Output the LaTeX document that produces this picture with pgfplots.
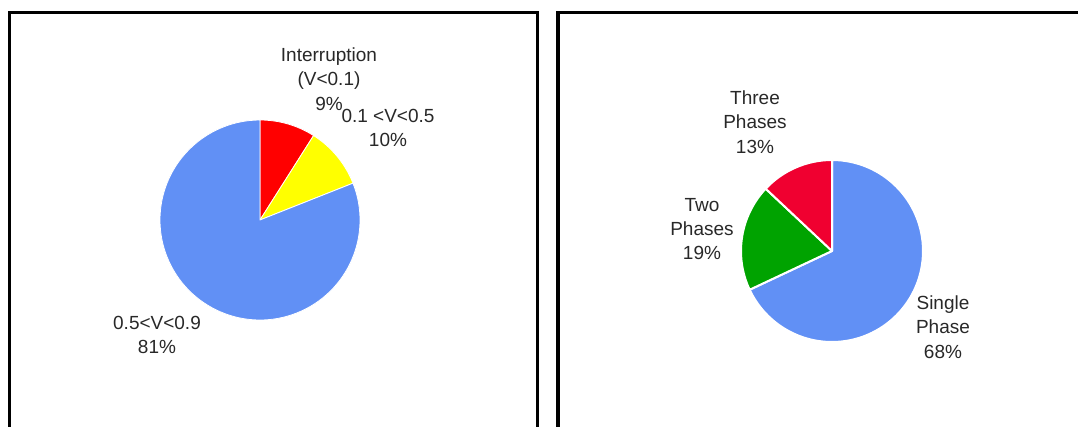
\documentclass[border=0pt]{standalone}
\usepackage{fontspec}
\setmainfont{Liberation Sans}
\usepackage{pgfplots}
\usepackage{pgfplotstable}
\pgfplotsset{compat=1.18}

\definecolor{pieBlue}{RGB}{97,144,245}
\definecolor{pieRed}{RGB}{255,0,0}
\definecolor{pieYellow}{RGB}{255,255,0}
\definecolor{phaseRed}{RGB}{240,0,48}
\definecolor{phaseGreen}{RGB}{0,163,0}
\definecolor{labelGray}{RGB}{40,40,40}

% Voltage sag depth (share of events, percent), clockwise from 12 o'clock
\pgfplotstableread{
share colour
9  pieRed
10 pieYellow
81 pieBlue
}\depthdata

% Number of phases affected (share of events, percent), clockwise from 12 o'clock
\pgfplotstableread{
share colour
68 pieBlue
19 phaseGreen
13 phaseRed
}\phasedata

% \drawpie{table}{centre x}{centre y}{radius}{separator width}
\newcommand\drawpie[5]{%
  \pgfplotstablegetrowsof{#1}%
  \pgfmathtruncatemacro\lastrow{\pgfplotsretval-1}%
  \def\startang{90}%
  \pgfplotsforeachungrouped \i in {0,...,\lastrow}{%
    \pgfplotstablegetelem{\i}{share}\of{#1}\let\val\pgfplotsretval
    \pgfplotstablegetelem{\i}{colour}\of{#1}\let\col\pgfplotsretval
    \pgfmathsetmacro\endang{\startang-3.6*\val}%
    \edef\wedge{\noexpand\filldraw[fill=\col, draw=white, line width=#5, line join=round]
      (axis cs:#2,#3) -- ++(\startang:#4)
      arc[start angle=\startang, end angle=\endang, radius=#4] -- cycle;}%
    \wedge
    \let\startang\endang
  }%
}

\tikzset{lbl/.style={font=\fontsize{9.5}{12.2}\selectfont, align=center,
  text=labelGray, inner sep=0pt, anchor=center}}

\begin{document}
\begin{tikzpicture}
\begin{axis}[
  x=0.5pt, y=0.5pt,
  xmin=0, xmax=1078, ymin=0, ymax=427,
  y dir=reverse,
  hide axis,
  clip=false,
]
  % panel frames
  \draw[black, line width=1.7pt, line join=miter]
    (axis cs:9.5,427) -- (axis cs:9.5,12.5) -- (axis cs:537.5,12.5) -- (axis cs:537.5,427);
  \draw[black, line width=1.7pt, line join=miter]
    (axis cs:558,427) -- (axis cs:558,12.5) -- (axis cs:1078,12.5);

  % left: sag depth
  \drawpie{\depthdata}{260}{220}{50pt}{0.4pt}
  \node[lbl] at (axis cs:329,79) {Interruption\\(V<0.1)\\9\%};
  \node[lbl] at (axis cs:388,128) {0.1 <V<0.5\\10\%};
  \node[lbl] at (axis cs:157,335) {0.5<V<0.9\\81\%};

  % right: phases affected
  \drawpie{\phasedata}{832}{251}{45.5pt}{1pt}
  \node[lbl] at (axis cs:755,122) {Three\\Phases\\13\%};
  \node[lbl] at (axis cs:702,229) {Two\\Phases\\19\%};
  \node[lbl] at (axis cs:943,327) {Single\\Phase\\68\%};

  \coordinate (bbA) at (rel axis cs:0,0);
  \coordinate (bbB) at (rel axis cs:1,1);
\end{axis}
\pgfresetboundingbox
\useasboundingbox (bbA) rectangle (bbB);
\end{tikzpicture}
\end{document}
